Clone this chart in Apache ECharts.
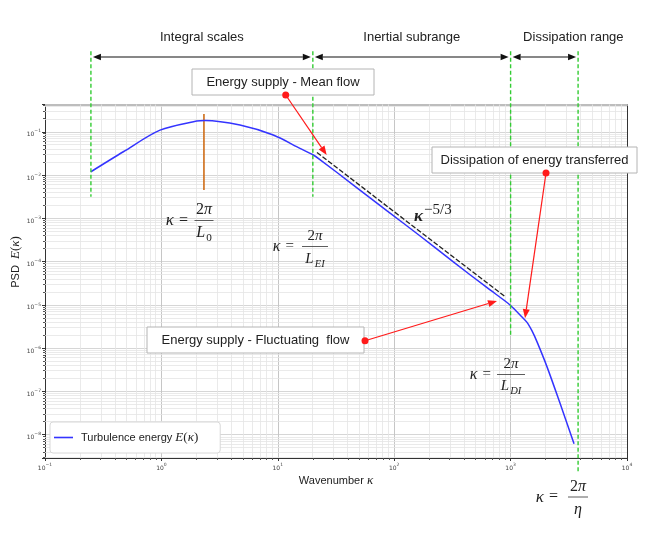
<!DOCTYPE html>
<html><head><meta charset="utf-8">
<script src="https://cdn.jsdelivr.net/npm/echarts@6/dist/echarts.min.js"></script>
<style>html,body{margin:0;padding:0;background:#fff}#c{width:661px;height:534px}</style>
</head><body><div id="c"></div>
<script>
// ---------------- data ----------------
const kappa  = [0.248, 0.471, 0.973, 2.01, 2.37, 4.73, 9.14, 15.5, 20.2, 23.0, 44.6, 86.3, 167, 322, 624, 895, 1000, 1205, 1384, 1528, 1687, 2056, 2655, 3508];
const energy = [0.0119, 0.0345, 0.109, 0.177, 0.183, 0.143, 0.0839, 0.0414, 0.0290, 0.0228, 0.00587, 0.00151, 3.90e-4, 9.80e-5, 2.52e-5, 1.23e-5, 9.68e-6, 5.85e-6, 3.93e-6, 2.49e-6, 1.39e-6, 3.68e-7, 5.35e-8, 6.14e-9];
const slopeKappa  = [21.7, 904];
const slopeEnergy = [0.0331, 1.52e-5];
const rangeKappa   = [0.248, 20, 1000, 3800];          // green dashed boundaries
const rangeBottomE = [3.15e-3, 3.15e-3, 2.02e-6, 1.38e-9];
const guideTopE = 7.3;
const peakKappa = 2.32;
const peakE = [0.257, 0.0045];
const xTickExp = [-1, 0, 1, 2, 3, 4];
const yTickExp = [-8, -7, -6, -5, -4, -3, -2, -1];
const rangeNames = ['Integral scales', 'Inertial subrange', 'Dissipation range'];
const meanFlowTarget = [26.3, 0.029];
const dissTarget = [1330, 4.9e-6];
const fluctTarget = [764, 1.23e-5];

// ---------------- helpers ----------------
const L = Math.log10;
const X_MIN = -1, X_MAX = 4, Y_MIN = -8.54, Y_MAX = -0.37;
const minorX = [], minorY = [];
for (let n = -1; n < 4; n++) for (let k = 2; k <= 9; k++) minorX.push(n + L(k));
for (let n = -9; n < 0; n++) for (let k = 2; k <= 9; k++) { const v = n + L(k); if (v > Y_MIN && v < Y_MAX) minorY.push(v); }

const supTxt = e => (e < 0 ? '\u2212' : '') + Math.abs(e);
const mkFmt = list => v => { const r = Math.round(v); if (Math.abs(v - r) > 1e-6 || list.indexOf(r) < 0) return ''; return '{b|10}{s|' + supTxt(r) + '}'; };
const tickRich = {
  b: { fontSize: 6, fontFamily: 'DejaVu Sans', color: '#444', verticalAlign: 'top', lineHeight: 6, padding: [3, 0, 0, 0] },
  s: { fontSize: 4.5, fontFamily: 'DejaVu Sans', color: '#444', verticalAlign: 'top', lineHeight: 4.5 }
};

const blue = '#3434ff';
const series = [
  { name: '_grid', type: 'line', data: [[-10, -20]], showSymbol: false, silent: true, z: 1,
    lineStyle: { opacity: 0 },
    markLine: { silent: true, z: 1, symbol: ['none', 'none'], label: { show: false }, animation: false,
      lineStyle: { color: '#e4e4e4', width: 0.8, type: 'solid' },
      data: minorX.map(v => ({ xAxis: v })).concat(minorY.map(v => ({ yAxis: v }))) } },
  { name: 'Turbulence energy', type: 'line', data: kappa.map((k, i) => [L(k), L(energy[i])]),
    smooth: 0.3, showSymbol: false, z: 5, lineStyle: { color: blue, width: 1.5 }, itemStyle: { color: blue } },
  { name: '_slope', type: 'line', data: slopeKappa.map((k, i) => [L(k), L(slopeEnergy[i])]),
    showSymbol: false, z: 6, lineStyle: { color: '#222', width: 1.3, type: [5, 2] } },
  { name: '_peak', type: 'line', data: peakE.map(e => [L(peakKappa), L(e)]),
    showSymbol: false, z: 4, lineStyle: { color: '#cf6d17', width: 1.6 } }
];
rangeKappa.forEach((k, i) => series.push({
  name: '_range' + i, type: 'line', clip: false, showSymbol: false, z: 7,
  data: [[L(k), L(guideTopE)], [L(k), L(rangeBottomE[i])]],
  lineStyle: { color: '#33cc33', width: 1.4, type: [4, 2.5] }
}));

const chart = echarts.init(document.getElementById('c'));
chart.setOption({
  animation: false,
  backgroundColor: '#fff',
  grid: { left: 45, right: 34, top: 104.5, bottom: 76 },
  legend: {
    z: 50, left: 50, top: 422, data: [{ name: 'Turbulence energy', icon: 'rect' }],
    itemWidth: 19, itemHeight: 1.6, backgroundColor: '#fff', borderColor: '#d8d8d8', borderWidth: 1, borderRadius: 3,
    padding: [9, 22, 9, 4],
    formatter: n => n + ' {i|E}{r|(}{i|\u03ba}{r|)}',
    textStyle: { fontFamily: 'Liberation Sans', fontSize: 11, color: '#222', padding: [0, 0, 0, 3],
      rich: { i: { fontFamily: 'Liberation Serif', fontStyle: 'italic', fontSize: 13, color: '#222' },
              r: { fontFamily: 'Liberation Serif', fontSize: 13, color: '#222' } } }
  },
  xAxis: [
    { type: 'value', min: X_MIN, max: X_MAX, interval: 1,
      axisLine: { onZero: false, lineStyle: { color: '#333', width: 1 } },
      axisTick: { length: 3, lineStyle: { color: '#333' } },
      axisLabel: { margin: 4, formatter: mkFmt(xTickExp), rich: tickRich },
      splitLine: { show: true, lineStyle: { color: '#c6c6c6', width: 1 } } },
    { type: 'value', position: 'top', min: X_MIN, max: X_MAX, interval: 1,
      axisLine: { onZero: false, lineStyle: { color: '#bdbdbd', width: 2 } }, axisTick: { show: false }, axisLabel: { show: false }, splitLine: { show: false } },
    { type: 'value', position: 'bottom', min: X_MIN, max: X_MAX,
      axisLine: { show: false, onZero: false }, axisTick: { show: true, length: 2, customValues: minorX, lineStyle: { color: '#555' } },
      axisLabel: { show: false }, splitLine: { show: false } }
  ],
  yAxis: [
    { type: 'value', min: Y_MIN, max: Y_MAX, splitNumber: 8, minInterval: 1, maxInterval: 1,
      axisLine: { show: true, onZero: false, lineStyle: { color: '#333', width: 1 } },
      axisTick: { show: true, length: 3, lineStyle: { color: '#333' } },
      axisLabel: { margin: 4, formatter: mkFmt(yTickExp), rich: tickRich },
      splitLine: { show: true, lineStyle: { color: '#d6d6d6', width: 1.2 } } },
    { type: 'value', position: 'right', min: Y_MIN, max: Y_MAX, splitNumber: 8, minInterval: 1, maxInterval: 1,
      axisLine: { show: true, onZero: false, lineStyle: { color: '#333', width: 1 } }, axisTick: { show: false }, axisLabel: { show: false }, splitLine: { show: false } },
    { type: 'value', position: 'left', min: Y_MIN, max: Y_MAX,
      axisLine: { show: false, onZero: false }, axisTick: { show: true, length: 2, customValues: minorY, lineStyle: { color: '#555' } },
      axisLabel: { show: false }, splitLine: { show: false } }
  ],
  series: series
});

// ---------------- annotations ----------------
const px = (k, E) => chart.convertToPixel({ xAxisIndex: 0, yAxisIndex: 0 }, [L(k), L(E)]);
const pxX = k => px(k, 1)[0];
const g = [];
const Z = 100;
const sans = 'Liberation Sans', serif = 'Liberation Serif';

function arrowEls(x1, y1, x2, y2, color, lw, hl, hw, both) {
  const dx = x2 - x1, dy = y2 - y1, len = Math.hypot(dx, dy), ux = dx / len, uy = dy / len;
  const sx = both ? x1 + ux * hl : x1, sy = both ? y1 + uy * hl : y1;
  g.push({ type: 'line', z: Z, silent: true, shape: { x1: sx, y1: sy, x2: x2 - ux * hl, y2: y2 - uy * hl }, style: { stroke: color, lineWidth: lw } });
  const head = (tx, ty, vx, vy) => ({ type: 'polygon', z: Z, silent: true,
    shape: { points: [[tx, ty], [tx - vx * hl - vy * hw, ty - vy * hl + vx * hw], [tx - vx * hl + vy * hw, ty - vy * hl - vx * hw]] },
    style: { fill: color } });
  g.push(head(x2, y2, ux, uy));
  if (both) g.push(head(x1, y1, -ux, -uy));
}
function text(x, y, t, font, extra) {
  g.push(Object.assign({ type: 'text', z: Z, silent: true, x: x, y: y,
    style: Object.assign({ text: t, font: font, fill: '#222', align: 'center', verticalAlign: 'middle' }, extra || {}) }));
}
function mathRich(size) {
  return {
    i: { fontFamily: serif, fontStyle: 'italic', fontSize: size, verticalAlign: 'top', lineHeight: size, fill: '#222' },
    k: { fontFamily: serif, fontStyle: 'italic', fontSize: size + 1, verticalAlign: 'top', lineHeight: size, padding: [0, 5, 0, 0], fill: '#222' },
    n: { fontFamily: serif, fontSize: size, verticalAlign: 'top', lineHeight: size, fill: '#222' },
    s: { fontFamily: serif, fontSize: size * 0.7, verticalAlign: 'top', lineHeight: size * 0.7, padding: [size * 0.5, 0, 0, 1], fill: '#222' },
    si: { fontFamily: serif, fontStyle: 'italic', fontSize: size * 0.7, verticalAlign: 'top', lineHeight: size * 0.7, padding: [size * 0.5, 0, 0, 1], fill: '#222' }
  };
}
function frac(o) {
  const rich = mathRich(o.size);
  g.push({ type: 'text', z: Z, silent: true, x: o.kRight, y: o.barY,
    style: { text: '{k|\u03ba}{n|=}', rich: rich, align: 'right', verticalAlign: 'middle' } });
  g.push({ type: 'text', z: Z, silent: true, x: o.cx, y: o.numY,
    style: { text: '{n|2}{i|\u03c0}', rich: rich, align: 'center', verticalAlign: 'middle' } });
  g.push({ type: 'line', z: Z, silent: true, shape: { x1: o.cx - o.half, y1: o.barY, x2: o.cx + o.half, y2: o.barY }, style: { stroke: '#333', lineWidth: 0.8 } });
  g.push({ type: 'text', z: Z, silent: true, x: o.cx, y: o.denY,
    style: { text: o.den, rich: rich, align: 'center', verticalAlign: 'middle' } });
}

// top range arrows and labels
const topY = 57;
for (let i = 0; i < 3; i++) {
  const a = pxX(rangeKappa[i]), b = pxX(rangeKappa[i + 1]);
  arrowEls(a + 2, topY, b - 2, topY, '#111', 1.2, 8, 3.2, true);
  text((a + b) / 2 + (i === 2 ? 29 : 0), 37, rangeNames[i], '13px "' + sans + '"');
}

// boxed notes with red arrows
const boxes = [
  { t: 'Energy supply - Mean flow', x1: 192, y1: 69, x2: 374, y2: 95, dot: [285.7, 95], target: meanFlowTarget },
  { t: 'Dissipation of energy transferred', x1: 432, y1: 147, x2: 637, y2: 173, dot: [546, 173], target: dissTarget },
  { t: 'Energy supply - Fluctuating  flow', x1: 147, y1: 327, x2: 364, y2: 353, dot: [365, 340.7], target: fluctTarget }
];
boxes.forEach(b => {
  g.push({ type: 'rect', z: Z, silent: true, shape: { x: b.x1, y: b.y1, width: b.x2 - b.x1, height: b.y2 - b.y1 },
    style: { fill: '#fff', stroke: '#b4b4b4', lineWidth: 1 } });
  text((b.x1 + b.x2) / 2, (b.y1 + b.y2) / 2, b.t, '13px "' + sans + '"');
  const t = px(b.target[0], b.target[1]);
  arrowEls(b.dot[0], b.dot[1], t[0], t[1], '#ff1a1a', 1.2, 9, 3.5, false);
  g.push({ type: 'circle', z: Z + 1, silent: true, shape: { cx: b.dot[0], cy: b.dot[1], r: 3.5 }, style: { fill: '#ff1a1a' } });
});

// math labels
frac({ kRight: 188, cx: 204, half: 9.5, barY: 220.5, numY: 210, denY: 233, size: 16, den: '{i|L}{s|0}' });
frac({ kRight: 294, cx: 315, half: 13, barY: 246.5, numY: 236, denY: 259, size: 15, den: '{i|L}{si|EI}' });
frac({ kRight: 491, cx: 511, half: 14, barY: 374.5, numY: 364, denY: 386, size: 15, den: '{i|L}{si|DI}' });
frac({ kRight: 558, cx: 578, half: 10, barY: 497, numY: 487, denY: 510, size: 16, den: '{i|\u03b7}' });
g.push({ type: 'text', z: Z, silent: true, x: 414, y: 211,
  style: { text: '{k|\u03ba}{p|\u22125/3}', align: 'left', verticalAlign: 'middle',
    rich: { k: { fontFamily: serif, fontStyle: 'italic', fontWeight: 'bold', fontSize: 17, verticalAlign: 'top', lineHeight: 17, padding: [6, 0, 0, 0], fill: '#222' },
            p: { fontFamily: serif, fontSize: 15, verticalAlign: 'top', lineHeight: 15, padding: [0, 0, 0, 1], fill: '#222' } } } });

// axis names
g.push({ type: 'text', z: Z, silent: true, x: 336, y: 481,
  style: { text: 'Wavenumber {i|\u03ba}', font: '11px "' + sans + '"', fill: '#222', align: 'center', verticalAlign: 'middle',
    rich: { i: { fontFamily: serif, fontStyle: 'italic', fontSize: 13, fill: '#222' } } } });
g.push({ type: 'text', z: Z, silent: true, x: 16, y: 262, rotation: Math.PI / 2,
  style: { text: 'PSD  {i|E}{r|(}{i|\u03ba}{r|)}', font: '11px "' + sans + '"', fill: '#222', align: 'center', verticalAlign: 'middle',
    rich: { i: { fontFamily: serif, fontStyle: 'italic', fontSize: 13, fill: '#222' }, r: { fontFamily: serif, fontSize: 13, fill: '#222' } } } });

chart.setOption({ graphic: { elements: g } });
</script>
</body></html>
